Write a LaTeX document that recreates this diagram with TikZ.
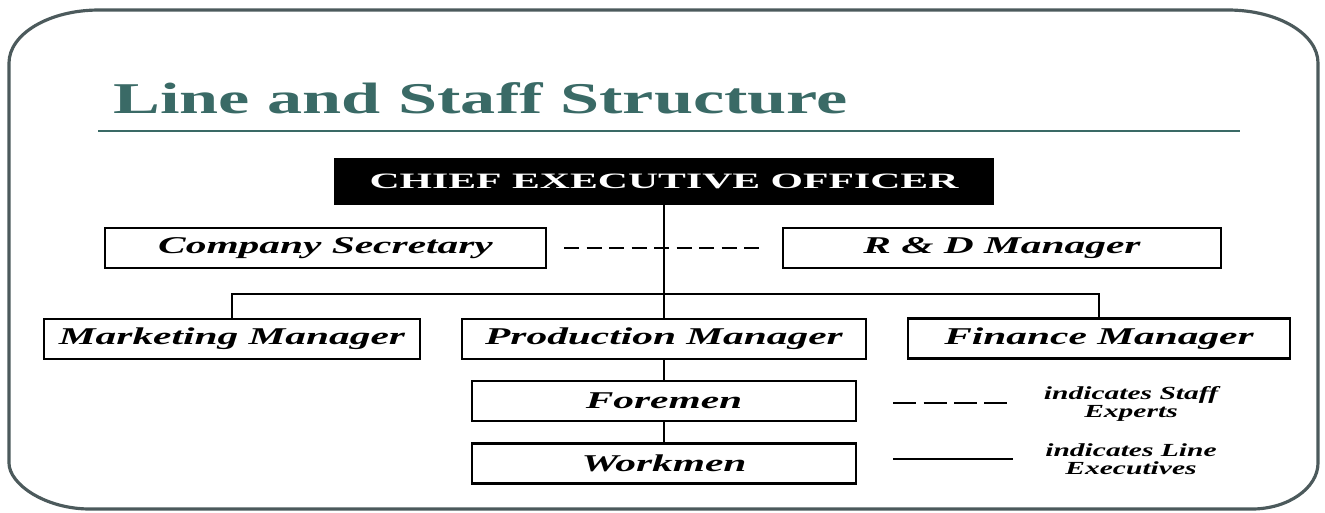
\documentclass[tikz,border=0pt]{standalone}
\usepackage{fontspec}
\setmainfont{Liberation Serif}
\newfontfamily\widefont[FakeStretch=1.72]{Liberation Serif}
\newfontfamily\titlefont[FakeStretch=1.6]{Liberation Serif}
\newfontfamily\ceofont[FakeStretch=1.9]{Liberation Serif}
\usetikzlibrary{calc}
\definecolor{slidegreen}{RGB}{58,106,102}
\definecolor{framegray}{RGB}{76,90,92}
\tikzstyle{post}=[draw,line width=1.4pt,inner sep=0pt,minimum height=0.8cm,font=\widefont\bfseries\itshape\fontsize{13.7}{15}\selectfont]
\tikzstyle{lineedge}=[draw,line width=1.5pt]
\tikzstyle{staffedge}=[draw,line width=1.5pt,dash pattern=on 0.3cm off 0.15cm]
\tikzstyle{legendtext}=[align=center,inner sep=0pt,font=\titlefont\bfseries\itshape\fontsize{10.5}{10}\selectfont]

\begin{document}
\begin{tikzpicture}[x=0.02cm,y=-0.02cm]
\useasboundingbox (0,0) rectangle (1325,512);

% slide frame
\draw[framegray,line width=1.8pt] (99,10) -- (1228,10) .. controls (1278,10) and (1318,34) .. (1318,63)
    -- (1318,463) .. controls (1318,488) and (1288,509) .. (1252,509)
    -- (90,509) .. controls (45,509) and (9,484) .. (9,463)
    -- (9,63) .. controls (9,34) and (49,10) .. (99,10) -- cycle;

\node[anchor=base west,inner sep=0pt,text=slidegreen,font=\titlefont\bfseries\fontsize{25}{28}\selectfont] (title) at (113,113) {Line and Staff Structure};
\draw[slidegreen,line width=1.3pt] (98,131) -- (1240,131);

\node[fill=black,text=white,inner sep=0pt,minimum width=660*0.02cm,minimum height=0.94cm,font=\ceofont\bfseries\fontsize{12.5}{14}\selectfont] (ceo) at (664,181.5) {CHIEF EXECUTIVE OFFICER};

\foreach \pos/\name/\boxw/\txt in {{(325.5,248)/sec/441/Company Secretary}, {(1002,248)/rnd/438/R \& D Manager},
    {(232,339)/mkt/376/Marketing Manager}, {(664,339)/prod/404/Production Manager}, {(1099,338.5)/fin/382/Finance Manager},
    {(664,401)/fore/384/Foremen}, {(664,463.5)/work/384/Workmen}}
    \node[post,minimum width=\boxw*0.02cm] (\name) at \pos {\txt};

% line executives
\coordinate (bus) at (664,294);
\draw[lineedge] (ceo.south) -- (prod.north);
\draw[lineedge] (mkt.north) |- (bus) -| (fin.north);
\draw[lineedge] (prod.south) -- (fore.north);
\draw[lineedge] (fore.south) -- (work.north);

% staff experts
\draw[staffedge,shorten <=0.34cm,shorten >=0.36cm] (sec) -- (rnd);

% legend
\coordinate (s1) at (893,403);
\coordinate (s2) at (1007,403);
\draw[line width=1.5pt,dash pattern=on 0.46cm off 0.15cm] (s1) -- (s2);
\node[legendtext] (stafftext) at (1131,404) {indicates Staff\\Experts};
\coordinate (l1) at (893,459);
\coordinate (l2) at (1013,459);
\draw[lineedge] (l1) -- (l2);
\node[legendtext] (linetext) at (1131,459) {indicates Line\\Executives};

\end{tikzpicture}
\end{document}
